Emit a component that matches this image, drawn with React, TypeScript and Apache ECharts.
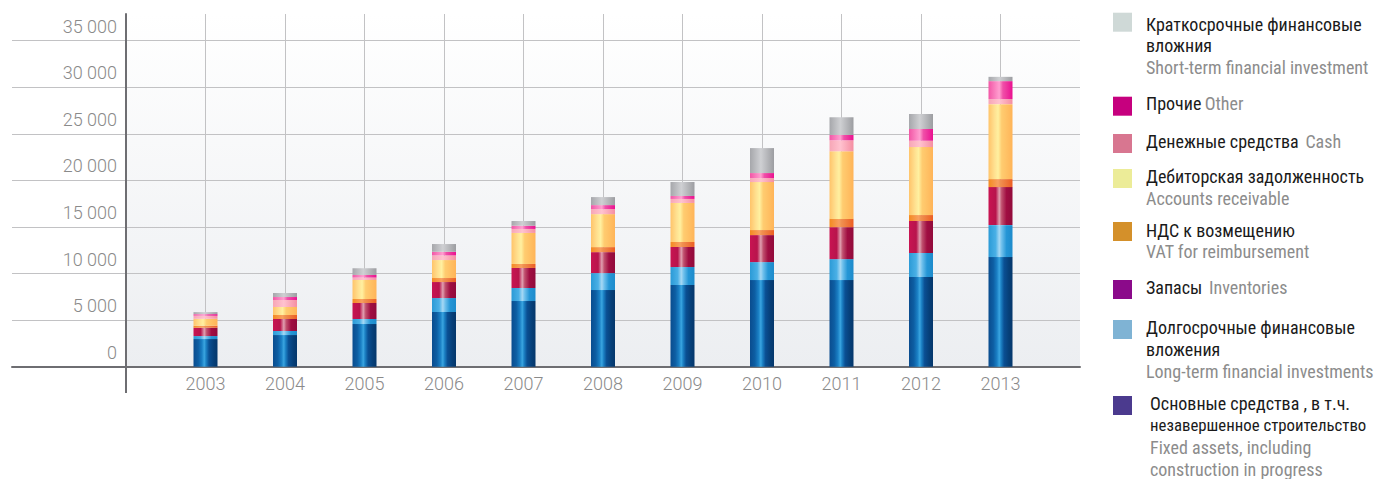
import React, { useEffect, useRef } from "react";
import * as echarts from "echarts";

// ---------- data ----------
const years = [2003, 2004, 2005, 2006, 2007, 2008, 2009, 2010, 2011, 2012, 2013];
const fixedAssets = [2970, 3400, 4580, 5870, 7050, 8230, 8770, 9300, 9300, 9630, 11770];
const longTermFin = [320, 430, 540, 1500, 1400, 1820, 1930, 1930, 2250, 2580, 3430];
const inventories = [890, 1290, 1720, 1720, 2150, 2250, 2150, 2900, 3430, 3430, 4080];
const vat = [215, 430, 430, 430, 430, 540, 540, 540, 890, 640, 860];
const receivables = [750, 860, 2040, 1930, 3330, 3540, 4190, 5150, 7260, 7300, 8050];
const cash = [320, 750, 260, 500, 430, 540, 430, 430, 1180, 680, 540];
const other = [180, 320, 280, 390, 350, 430, 320, 540, 570, 1260, 1930];
const shortTermFin = [215, 430, 720, 830, 500, 860, 1500, 2680, 1900, 1610, 460];

const yTickValues = [0, 5000, 10000, 15000, 20000, 25000, 30000, 35000];

// axis slots: one empty slot before and after the years
const axisCategories = ["2002", ...years.map(String), "2014"];

// legend (top to bottom)
const legendSwatches = ["#cfd9d7", "#c6007e", "#d87690", "#ecec98", "#d4902a", "#8b0a8a", "#7fb3d4", "#4b3a8e"];
const legendLines: string[][] = [
  ["{r|Краткосрочные финансовые}", "{r|вложния}", "{e|Short-term financial investment}"],
  ["{r|Прочие} {e|Other}"],
  ["{r|Денежные средства}  {e|Cash}"],
  ["{r|Дебиторская задолженность}", "{e|Accounts receivable}"],
  ["{r|НДС к возмещению}", "{e|VAT for reimbursement}"],
  ["{r|Запасы}  {e|Inventories}"],
  ["{r|Долгосрочные финансовые}", "{r|вложения}", "{e|Long-term financial investments}"],
  ["{r|Основные средства , в т.ч.}", "{rs|незавершенное строительство}", "{e|Fixed assets, including}", "{e|construction in progress}"],
];

const grad = (stops: [number, string][]) => ({
  type: "linear",
  x: 0,
  y: 0,
  x2: 1,
  y2: 0,
  colorStops: stops.map(([offset, color]) => ({ offset, color })),
});

const seriesDefs = [
  { name: "Fixed assets", data: fixedAssets, color: grad([[0, "#0a4c8e"], [0.2, "#0d5ea3"], [0.35, "#1a7fc4"], [0.45, "#3aa5e0"], [0.52, "#1d83c6"], [0.65, "#0a4f93"], [0.85, "#063f78"], [1, "#05376b"]]) },
  { name: "Long-term financial investments", data: longTermFin, color: grad([[0, "#2b9ad6"], [0.3, "#4ab0e6"], [0.45, "#a6d8f4"], [0.55, "#6fc0ec"], [0.75, "#2596d6"], [1, "#1e8bcb"]]) },
  { name: "Inventories", data: inventories, color: grad([[0, "#c81452"], [0.3, "#b8144c"], [0.45, "#e0a0b0"], [0.55, "#c0506e"], [0.75, "#a00e42"], [1, "#920b3b"]]) },
  { name: "VAT for reimbursement", data: vat, color: grad([[0, "#f48a20"], [0.4, "#f8a060"], [0.5, "#f09050"], [1, "#ec5e22"]]) },
  { name: "Accounts receivable", data: receivables, color: grad([[0, "#ffc46a"], [0.25, "#ffe090"], [0.4, "#fff0a0"], [0.55, "#ffcc70"], [1, "#ffb458"]]) },
  { name: "Cash", data: cash, color: grad([[0, "#f7a6b6"], [0.45, "#ffc2cf"], [1, "#f58ea2"]]) },
  { name: "Other", data: other, color: grad([[0, "#f256a6"], [0.45, "#ff9fd0"], [0.6, "#f050a8"], [1, "#ea1090"]]) },
  { name: "Short-term financial investment", data: shortTermFin, color: grad([[0, "#a6a7ab"], [0.45, "#cfd0d3"], [1, "#9c9da1"]]) },
];

const Y_MAX = 37867;
const GRID_TOP = 14;
const GRID_H = 352.7;
const AXIS_COLOR = "#6e6e72";
const GRID_COLOR = "#c2c2c4";
const LABEL_COLOR = "#8a8a8a";
const LABEL_FONT = "Roboto, 'Liberation Sans', sans-serif";
const LEGEND_FONT = "'Liberation Sans Narrow', 'Roboto Condensed', 'Noto Sans', sans-serif";

const fmt = (v: number) => String(v).replace(/\B(?=(\d{3})+(?!\d))/g, " ");

// legend layout
const legendSquareTops = [12.7, 96.7, 134, 169, 222, 280, 320, 396];
const legendFirstLine = [24, 103, 141.7, 176.7, 230, 287.3, 327.3, 403.3];
const legendTextX = [1146, 1146, 1146, 1146, 1146, 1146, 1146, 1150];
const LINE_GAP = 21.9;

export default function App() {
  const ref = useRef<HTMLDivElement>(null);

  useEffect(() => {
    if (!ref.current) return;
    const chart = echarts.init(ref.current, undefined, { renderer: "svg" });

    const legendElements: any[] = [];
    legendLines.forEach((lines, i) => {
      legendElements.push({
        type: "rect",
        shape: { x: 1113, y: legendSquareTops[i], width: 19, height: 19 },
        style: { fill: legendSwatches[i] },
      });
      lines.forEach((ln, j) => {
        legendElements.push({
          type: "text",
          x: legendTextX[i],
          y: legendFirstLine[i] + j * LINE_GAP,
          style: {
            text: ln,
            verticalAlign: "middle",
            align: "left",
            rich: {
              r: { fontFamily: LEGEND_FONT, fontSize: 18, fill: "#1a1a1a" },
              rs: { fontFamily: LEGEND_FONT, fontSize: 16.8, fill: "#1a1a1a" },
              e: { fontFamily: LEGEND_FONT, fontSize: 18, fill: "#8c8c8c" },
            },
          },
        });
      });
    });

    const option: any = {
      animation: false,
      backgroundColor: "#ffffff",
      grid: [
        {
          left: 126,
          top: GRID_TOP,
          width: 954,
          height: GRID_H,
          show: true,
          borderWidth: 0,
          backgroundColor: {
            type: "linear",
            x: 0,
            y: 0,
            x2: 0,
            y2: 1,
            colorStops: [
              { offset: 0, color: "#ffffff" },
              { offset: 1, color: "#eceef1" },
            ],
          },
          containLabel: false,
          outerBoundsMode: "none",
        },
        {
          left: 12,
          top: GRID_TOP,
          width: 114,
          height: GRID_H,
          containLabel: false,
          outerBoundsMode: "none",
        },
      ],
      xAxis: [
        {
          type: "category",
          gridIndex: 0,
          data: axisCategories,
          boundaryGap: false,
          axisLine: { show: true, lineStyle: { color: AXIS_COLOR, width: 2 } },
          axisTick: { show: false },
          axisLabel: {
            interval: 0,
            color: LABEL_COLOR,
            fontFamily: LABEL_FONT,
            fontWeight: 300,
            fontSize: 18,
            margin: 8,
            formatter: (v: string) => (v === "2002" || v === "2014" ? "" : v),
          },
          splitLine: {
            show: true,
            interval: (idx: number) => idx > 0 && idx < axisCategories.length - 1,
            lineStyle: { color: GRID_COLOR, width: 1 },
          },
        },
        {
          type: "value",
          gridIndex: 1,
          min: 0,
          max: 1,
          axisLine: { show: true, lineStyle: { color: AXIS_COLOR, width: 2 } },
          axisTick: { show: false },
          axisLabel: { show: false },
          splitLine: { show: false },
        },
      ],
      yAxis: [
        {
          type: "value",
          gridIndex: 0,
          min: 0,
          max: Y_MAX,
          interval: 5000,
          axisLine: { show: true, lineStyle: { color: AXIS_COLOR, width: 2 } },
          axisTick: { show: false },
          axisLabel: {
            color: LABEL_COLOR,
            fontFamily: LABEL_FONT,
            fontWeight: 300,
            fontSize: 18,
            margin: 9,
            verticalAlign: "bottom",
            lineHeight: 29,
            showMaxLabel: false,
            formatter: (v: number) => (yTickValues.includes(v) ? fmt(v) : ""),
          },
          splitLine: {
            show: true,
            showMinLine: false,
            showMaxLine: false,
            lineStyle: { color: GRID_COLOR, width: 1 },
          },
        },
        {
          type: "value",
          gridIndex: 1,
          min: 0,
          max: Y_MAX,
          interval: 5000,
          axisLine: { show: false },
          axisTick: { show: false },
          axisLabel: { show: false },
          splitLine: {
            show: true,
            showMinLine: false,
            showMaxLine: false,
            lineStyle: { color: GRID_COLOR, width: 1 },
          },
        },
      ],
      series: seriesDefs.map((s) => ({
        name: s.name,
        type: "bar",
        stack: "total",
        xAxisIndex: 0,
        yAxisIndex: 0,
        barWidth: 24,
        itemStyle: { color: s.color },
        emphasis: { disabled: true },
        data: s.data.map((v, i) => [String(years[i]), v]),
      })),
      graphic: {
        elements: [
          {
            type: "line",
            shape: { x1: 126, y1: 366, x2: 126, y2: 393 },
            style: { stroke: AXIS_COLOR, lineWidth: 2 },
          },
          ...legendElements,
        ],
      },
    };

    chart.setOption(option);
    return () => chart.dispose();
  }, []);

  return (
    <div
      ref={ref}
      style={{ position: "fixed", left: 0, top: 0, width: 1379, height: 479 }}
    />
  );
}
